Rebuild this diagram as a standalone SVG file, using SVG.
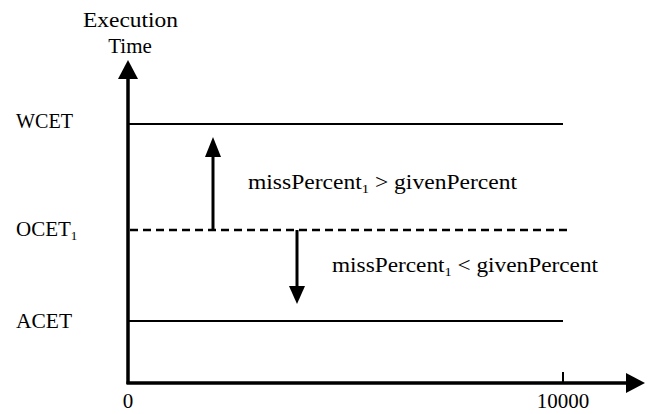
<svg xmlns="http://www.w3.org/2000/svg" width="648" height="414" viewBox="0 0 648 414">
<style>
text{font-family:'Times New Roman',Times,'Liberation Serif','Noto Serif','DejaVu Serif',serif;font-size:21px;fill:#000}
.ax{stroke:#000;stroke-width:3.5;fill:none}
.ln{stroke:#000;stroke-width:2;fill:none}
.ar{stroke:#000;stroke-width:3;fill:none}
</style>
<rect width="648" height="414" fill="#fff"/>
<g id="connectors">
<line class="ax" x1="128" y1="76" x2="128" y2="384"/>
<polygon points="128,60 118,79 138,79" fill="#000"/>
<line class="ax" x1="126.5" y1="383" x2="628" y2="383"/>
<polygon points="645,383 626,373 626,393" fill="#000"/>
<line class="ln" x1="563" y1="372" x2="563" y2="383"/>
<line class="ln" x1="128" y1="124" x2="563" y2="124"/>
<line class="ln" x1="128" y1="321" x2="563" y2="321"/>
<line stroke="#000" stroke-width="2.5" stroke-dasharray="8,5" x1="130" y1="230" x2="570" y2="230"/>
<line class="ar" x1="213" y1="230" x2="213" y2="154"/>
<polygon points="213,137 205,157 221,157" fill="#000"/>
<line class="ar" x1="297" y1="230" x2="297" y2="288"/>
<polygon points="297,304 289,286 305,286" fill="#000"/>
</g>
<g id="axis-labels">
<text x="83" y="27" textLength="95" lengthAdjust="spacingAndGlyphs">Execution</text>
<text x="130" y="53" text-anchor="middle">Time</text>
<text x="128" y="408" text-anchor="middle" font-size="19">0</text>
<text x="563" y="408" text-anchor="middle" font-size="19">10000</text>
</g>
<g id="wcet"><text x="16" y="128" textLength="57" lengthAdjust="spacingAndGlyphs">WCET</text></g>
<g id="ocet"><text x="16" y="236">OCET<tspan font-size="13" dy="4">1</tspan></text></g>
<g id="acet"><text x="16" y="328" textLength="56" lengthAdjust="spacingAndGlyphs">ACET</text></g>
<g id="label-greater"><text x="248" y="189" textLength="269" lengthAdjust="spacingAndGlyphs">missPercent<tspan font-size="13" dy="4">1</tspan><tspan dy="-4"> &gt; givenPercent</tspan></text></g>
<g id="label-less"><text x="332" y="272" textLength="266" lengthAdjust="spacingAndGlyphs">missPercent<tspan font-size="13" dy="4">1</tspan><tspan dy="-4"> &lt; givenPercent</tspan></text></g>
</svg>
